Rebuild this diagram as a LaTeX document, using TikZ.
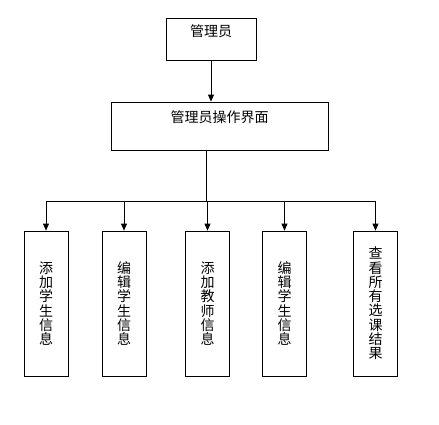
\documentclass[tikz,border=0pt]{standalone}
\usepackage{fontspec}
\newfontfamily\cjk{Noto Sans CJK SC}
\usetikzlibrary{positioning,arrows.meta}

\begin{document}
\begin{tikzpicture}[
          x=1pt, y=-1pt,
          box/.style={draw, line width=0.8pt, inner sep=0pt, font=\cjk\fontsize{14}{14.3}\selectfont},
          col/.style={box, minimum width=44pt, minimum height=145pt, align=center},
          arr/.style={-{Triangle[width=6pt,length=7pt]}, line width=0.8pt}
      ]
        \useasboundingbox (0,0) rectangle (439,424);
        % top two levels
        \node[box, minimum width=90pt, text height=18pt, text depth=24pt] (admin) at (211,39) {管理员};
        \node[box, minimum width=217pt, text height=20pt, text depth=28pt] (panel) at (219.5,126) {管理员操作界面};
        % function columns
        \node[col] (addstu) at (46,303.5) {添\\加\\学\\生\\信\\息};
        \node[col] (editstu) at (124,303.5) {编\\辑\\学\\生\\信\\息};
        \node[col] (addtea) at (207.5,303.5) {添\\加\\教\\师\\信\\息};
        \node[col] (editstu2) at (284.5,303.5) {编\\辑\\学\\生\\信\\息};
        \node[col] (results) at (375.5,303.5) {查\\看\\所\\有\\选\\课\\结\\果};
        \coordinate (split) at (206,201);
        % connectors
        \draw[arr] (admin.south) -- (admin.south |- panel.north);
        \draw[line width=0.8pt] (panel.south -| split) -- (split);
        \draw[line width=0.8pt] (addstu.north |- split) -- (results.north |- split);
        \foreach \n in {addstu,editstu,addtea,editstu2,results}
          \draw[arr] (\n.north |- split) -- (\n.north);
      \end{tikzpicture}
\end{document}
